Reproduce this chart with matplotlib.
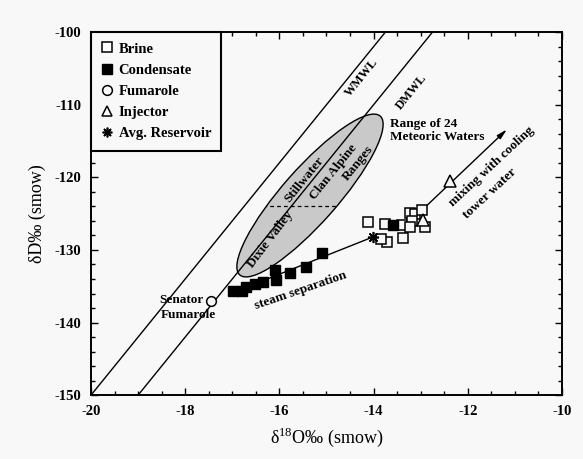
import numpy as np
import matplotlib
matplotlib.use("Agg")
from matplotlib import pyplot as plt
from matplotlib.patches import Ellipse
from matplotlib.lines import Line2D
import matplotlib.transforms as mtransforms

plt.rcParams['font.family'] = ['Liberation Serif', 'DejaVu Serif']
plt.rcParams['mathtext.fontset'] = 'custom'
plt.rcParams['mathtext.rm'] = 'Liberation Serif'

# data
brine_x = [-14.12, -13.76, -13.40, -13.23, -13.12, -12.97, -13.18, -13.23, -12.91, -13.38, -13.72, -13.85]
brine_y = [-126.2, -126.4, -126.6, -124.9, -125.0, -124.5, -126.0, -126.9, -126.9, -128.4, -128.9, -128.5]
cond_x = [-15.10, -15.44, -15.77, -16.09, -16.07, -16.35, -16.52, -16.71, -16.79, -16.98, -13.59]
cond_y = [-130.4, -132.4, -133.2, -132.8, -134.2, -134.4, -134.7, -135.1, -135.7, -135.7, -126.6]
fum_x = [-17.45]
fum_y = [-137.05]
inj_x = [-12.38, -12.95]
inj_y = [-120.5, -125.9]
res_x = [-14.01]
res_y = [-128.2]

wmwl = (8, 10)   # slope, intercept
dmwl = (8, 2)

# meteoric water range ellipse (centre, semi axes in x units, angle on screen)
ell_center = (-15.35, -122.5)
ell_semi = (2.25, 0.58)
ell_angle = 48.5
ell_split = -124.0

steam_arrow = ((-14.01, -128.2), (-17.07, -136.1))
mix_arrow = ((-12.97, -124.5), (-11.17, -113.4))

bg = '#f8f8f8'
fig = plt.figure(figsize=(5.83, 4.59), dpi=100, facecolor=bg)
ax = fig.add_axes([0.156, 0.139, 0.808, 0.791], facecolor=bg)
ax.set_xlim(-20, -10)
ax.set_ylim(-150, -100)

# y-units per x-unit on screen
k = (0.808 * 5.83 / 10) / (0.791 * 4.59 / 50)

xs = np.array([-20, -10])
for m, b in (wmwl, dmwl):
    ax.plot(xs, m * xs + b, color='k', lw=1.0, zorder=2)

tr = mtransforms.Affine2D().scale(1, k) + ax.transData
ell = Ellipse((ell_center[0], ell_center[1] / k), 2 * ell_semi[0], 2 * ell_semi[1],
              angle=ell_angle, transform=tr, facecolor='#c9c9c9', edgecolor='k', lw=1.0, zorder=1)
ax.add_patch(ell)
dl, = ax.plot([-20, -10], [ell_split, ell_split], 'k--', lw=0.9, dashes=(3, 2.5), zorder=1.5)
dl.set_clip_path(ell)

bold = dict(fontweight='bold', fontsize=9.5)
ax.text(-16.18, -128.5, 'Dixie Valley', rotation=53, ha='center', va='center', **bold)
ax.text(-15.46, -120.3, 'Stillwater', rotation=51, ha='center', va='center', **bold)
ax.text(-14.86, -119.2, 'Clan Alpine', rotation=51, ha='center', va='center', **bold)
ax.text(-14.33, -118.0, 'Ranges', rotation=51, ha='center', va='center', **bold)

ax.text(-14.25, -106.3, 'WMWL', rotation=51, ha='center', va='center', fontweight='bold', fontsize=9)
ax.text(-13.2, -108.3, 'DMWL', rotation=51, ha='center', va='center', fontweight='bold', fontsize=9)

ax.text(-13.65, -112.7, 'Range of 24', ha='left', va='center', **bold)
ax.text(-13.65, -114.5, 'Meteoric Waters', ha='left', va='center', **bold)
ax.text(-18.55, -136.9, 'Senator', ha='left', va='center', **bold)
ax.text(-18.52, -138.9, 'Fumarole', ha='left', va='center', **bold)
ax.text(-15.55, -135.6, 'steam separation', rotation=19, ha='center', va='center', **bold)
ax.text(-12.35, -123.8, 'mixing with cooling', rotation=43, ha='left', va='center',
        rotation_mode='anchor', **bold)
ax.text(-12.05, -125.4, 'tower water', rotation=43, ha='left', va='center',
        rotation_mode='anchor', **bold)

arrow_kw = dict(arrowstyle='-|>,head_length=0.6,head_width=0.15', color='k', lw=1.0, shrinkA=0, shrinkB=0)
ax.annotate('', xy=steam_arrow[1], xytext=steam_arrow[0], arrowprops=arrow_kw, zorder=3)
ax.annotate('', xy=mix_arrow[1], xytext=mix_arrow[0], arrowprops=arrow_kw, zorder=3)

ax.plot(brine_x, brine_y, 's', ms=7.5, mfc=bg, mec='k', mew=1.1, ls='none', zorder=4)
ax.plot(cond_x, cond_y, 's', ms=7.5, mfc='k', mec='k', ls='none', zorder=4)
ax.plot(fum_x, fum_y, 'o', ms=7, mfc=bg, mec='k', mew=1.1, ls='none', zorder=4)
ax.plot(inj_x, inj_y, '^', ms=8, mfc=bg, mec='k', mew=1.1, ls='none', zorder=5)
ax.plot(res_x, res_y, marker=(8, 2, 0), ms=8, color='k', mew=1.2, ls='none', zorder=5)

handles = [
    Line2D([], [], marker='s', ms=7, mfc='white', mec='k', mew=1.1, ls='none'),
    Line2D([], [], marker='s', ms=7, mfc='k', mec='k', ls='none'),
    Line2D([], [], marker='o', ms=7, mfc='white', mec='k', mew=1.1, ls='none'),
    Line2D([], [], marker='^', ms=7, mfc='white', mec='k', mew=1.1, ls='none'),
    Line2D([], [], marker=(8, 2, 0), ms=7, color='k', mew=1.2, ls='none'),
]
labels = ['Brine', 'Condensate', 'Fumarole', 'Injector', 'Avg. Reservoir']
leg = ax.legend(handles, labels, loc='upper left', bbox_to_anchor=(0, 1), borderaxespad=0,
                fancybox=False, framealpha=1, edgecolor='k', facecolor=bg,
                prop=dict(family='Liberation Serif', weight='bold', size=10.5),
                handlelength=0.8, handletextpad=0.4, labelspacing=0.55, borderpad=0.7)
leg.get_frame().set_linewidth(1.5)

ax.set_xticks(np.arange(-20, -9, 2))
ax.set_xticks(np.arange(-20, -9.9, 0.5), minor=True)
ax.set_yticks(np.arange(-150, -99, 10))
ax.set_yticks(np.arange(-150, -99, 2), minor=True)
ax.set_xticklabels([str(v) for v in range(-20, -9, 2)])
ax.set_yticklabels([str(v) for v in range(-150, -99, 10)])
ax.tick_params(which='both', direction='in', top=True, right=True, labelsize=10.5, width=1.0)
ax.tick_params(which='major', length=5, pad=7)
ax.tick_params(which='minor', length=3)
for t in ax.get_xticklabels() + ax.get_yticklabels():
    t.set_fontweight('bold')
for s in ax.spines.values():
    s.set_linewidth(1.4)

ax.set_xlabel('δ$^{18}$O‰ (smow)', fontsize=13, labelpad=6)
ax.set_ylabel('δD‰ (smow)', fontsize=13, labelpad=6)

fig.savefig('out.png', dpi=100, facecolor=bg)
